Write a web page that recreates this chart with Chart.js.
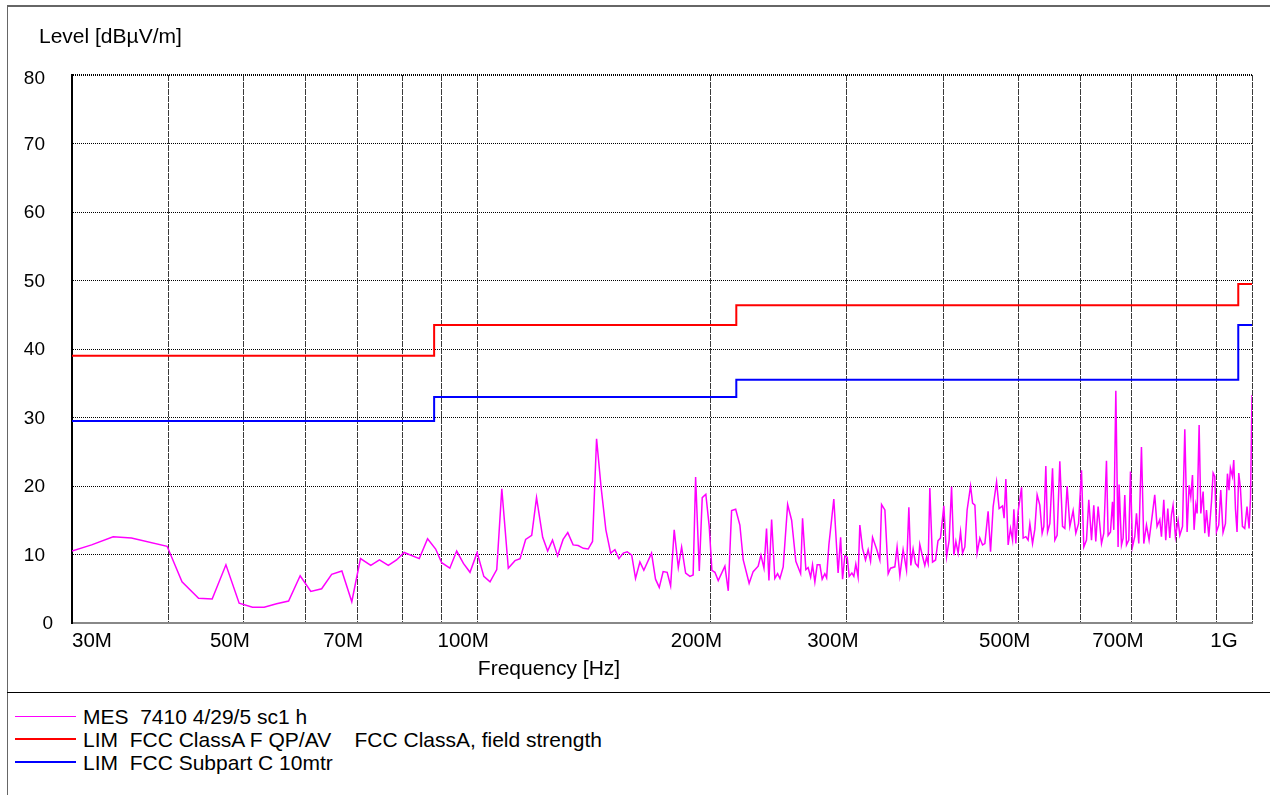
<!DOCTYPE html>
<html>
<head>
<meta charset="utf-8">
<title>Radiated emission scan</title>
<script src="https://cdn.jsdelivr.net/npm/chart.js@4/dist/chart.umd.min.js"></script>
<style>
    html, body { margin: 0; padding: 0; background: #fff; }
    body { width: 1270px; height: 795px; position: relative; overflow: hidden; font-family: "Liberation Sans", Arial, sans-serif; }
    #frame { position: absolute; left: 7px; top: 5px; width: 1300px; height: 820px; border-left: 1px solid #666; border-top: 2px solid #666; }
    #sep { position: absolute; left: 7px; top: 692px; width: 1270px; border-top: 1px solid #000; }
    #chart { position: absolute; left: 0; top: 0; }
    .row { position: absolute; left: 0; width: 1000px; height: 23px; line-height: 23px; font-size: 21px; color: #000; }
    .swatch { position: absolute; left: 15px; width: 61px; height: 0; }
    .txt { position: absolute; left: 83px; top: 0; white-space: pre; }
</style>
</head>
<body>
<div id="frame"></div>
<div id="sep"></div>
<canvas id="chart" width="1270" height="692"></canvas>
<div id="legend"></div>

<script>
// frequency grid (MHz) and labelled ticks
const gridFreqs = [30, 40, 50, 60, 70, 80, 90, 100, 200, 300, 400, 500, 600, 700, 800, 900, 1000];
const xLabelFreqs = [30, 50, 70, 100, 200, 300, 500, 700, 1000];
const xLabels = ['30M', '50M', '70M', '100M', '200M', '300M', '500M', '700M', '1G'];
const yTicks = [0, 10, 20, 30, 40, 50, 60, 70, 80];

// measured trace, MHz / dBµV/m
const measFreq = [
    30, 31.8, 33.9, 35.8, 39.8, 41.6, 43.7, 45.5, 47.4, 49.3, 51.3, 53.1, 55.1, 57.1, 59.1, 61.0, 63.0, 64.9, 66.9, 68.9,
    70.7, 72.9, 74.8, 76.8, 78.7, 80.5, 84.2, 86.3, 88.4, 90.0, 92.2, 94.1, 96.0, 97.9, 100, 102, 103.9, 106, 107.6, 109.7,
    111.9, 113.6, 115.5, 117.6, 119.3, 121.5, 123.3, 125.1, 127.0, 129.1, 130.9, 133.0, 135.0, 137.1, 139.1, 140.9, 142.6, 144.5, 146.6, 148.7,
    150.6, 152.4, 154.4, 156.2, 158.3, 160.1, 162.2, 164.1, 167.9, 169.9, 171.8, 173.8, 175.9, 177.7, 179.6, 181.8, 183.6, 185.8, 188.2, 190.0,
    191.4, 193.5, 195.2, 197.3, 199.3, 200.9, 202.7, 204.7, 208.8, 210.9, 213.0, 215.6, 218.3, 220.5, 224.4, 227.1, 230.5, 232.4, 234.5, 236.3,
    238.0, 239.9, 242.2, 244.2, 245.9, 248.3, 251.6, 254.6, 257.8, 261.5, 263.0, 265.6, 267.4, 269.4, 270.9, 272.8, 274.7, 276.9, 278.8, 281.0,
    282.5, 284.4, 288.6, 292.3, 294.5, 296.2, 298.2, 300.3, 302.1, 304.5, 306.3, 308.1, 310.2, 311.8, 314.3, 317.1, 319.6, 321.9, 323.8, 327.7,
    330.9, 332.6, 335.9, 339.2, 341.6, 346.0, 348.3, 351.2, 354.6, 358.2, 360.7, 362.8, 365.3, 367.9, 370.8, 372.6, 375.7, 378.2, 380.2, 382.0,
    383.9, 387.0, 390.5, 393.3, 396.2, 400.2, 403.5, 406.6, 409.5, 412.3, 414.8, 417.6, 420.6, 423.1, 426.0, 428.9, 433.3, 435.9, 438.9, 441.8,
    445.4, 449.0, 452.1, 456.5, 459.8, 463.4, 468.1, 471.7, 476.5, 478.7, 481.2, 484.5, 487.9, 490.9, 492.8, 495.7, 499.1, 504.2, 506.6, 510.7,
    514.1, 516.8, 520.9, 524.5, 528.1, 532.3, 536.0, 538.7, 541.9, 544.7, 548.4, 552.8, 556.6, 560.4, 564.9, 569.5, 573.4, 577.3, 582.0, 587.7,
    592.4, 597.2, 602.5, 606.6, 611.5, 615.7, 620.7, 624.9, 628.6, 633.0, 639.4, 643.8, 648.9, 652.1, 656.7, 660.6, 663.2, 667.2, 671.7, 673.7,
    678.5, 681.8, 685.2, 688.7, 693.4, 696.9, 701.0, 705.8, 709.4, 714.3, 720.0, 725.0, 730.8, 736.5, 744.0, 749.0, 754.2, 760.3, 764.1, 769.4,
    773.9, 778.6, 783.2, 787.2, 790.9, 796.5, 802.9, 806.9, 813.4, 819.0, 824.6, 829.5, 833.7, 837.9, 841.9, 846.2, 849.5, 854.6, 858.9, 864.8,
    869.1, 873.5, 879.5, 886.6, 890.9, 895.3, 899.7, 905.9, 911.3, 917.5, 924.1, 929.6, 934.0, 937.9, 943.5, 947.2, 952.0, 956.5, 961.4, 966.2,
    972.0, 978.6, 985.3, 991.4, 995.6, 1000
];
const measLevel = [
    10.5, 11.4, 12.6, 12.4, 11.2, 6.0, 3.6, 3.5, 8.5, 2.9, 2.3, 2.3, 2.8, 3.2, 6.9, 4.6, 5.0, 7.1, 7.6, 3.1,
    9.4, 8.4, 9.2, 8.4, 9.2, 10.3, 9.4, 12.3, 10.8, 8.8, 8.0, 10.5, 8.7, 7.4, 10.3, 6.8, 6.0, 7.8, 19.6, 8.0,
    9.1, 9.4, 12.2, 12.8, 18.3, 12.5, 10.5, 12.1, 9.8, 12.2, 13.2, 11.4, 11.3, 10.9, 10.8, 11.9, 26.9, 19.9, 13.6, 10.2,
    10.7, 9.4, 10.2, 10.4, 9.9, 6.5, 8.9, 7.7, 10.2, 6.4, 5.2, 7.5, 7.4, 5.4, 13.6, 8.1, 11.1, 7.3, 6.8, 7.0,
    21.3, 7.6, 18.3, 18.8, 14.1, 7.7, 7.4, 6.2, 8.3, 4.7, 16.4, 16.6, 14.3, 9.2, 5.8, 7.5, 8.3, 9.9, 8.0, 13.8,
    6.2, 15.1, 6.5, 7.2, 6.5, 8.2, 17.3, 15.0, 9.0, 7.2, 15.3, 7.8, 8.1, 6.7, 8.5, 6.0, 8.5, 8.5, 6.4, 7.2,
    6.6, 11.4, 18.1, 7.3, 12.5, 6.4, 9.8, 9.6, 6.8, 7.3, 6.8, 8.6, 6.7, 14.3, 10.9, 9.2, 10.7, 9.0, 12.5, 10.8,
    9.2, 17.3, 16.5, 7.2, 8.0, 8.2, 11.1, 6.9, 10.7, 7.7, 16.9, 8.4, 10.8, 8.7, 8.2, 11.5, 9.7, 8.4, 9.6, 8.7,
    19.7, 8.9, 9.2, 12.0, 12.4, 17.1, 9.7, 12.1, 19.9, 9.9, 11.9, 10.2, 13.3, 10.2, 11.1, 16.5, 20.0, 17.5, 17.2, 10.2,
    12.4, 11.4, 11.6, 16.3, 10.4, 17.0, 20.6, 16.7, 17.1, 15.3, 21.0, 11.4, 13.8, 12.1, 16.6, 11.6, 16.3, 19.8, 12.4, 12.6,
    12.1, 14.5, 11.6, 13.7, 18.7, 17.2, 13.1, 14.1, 22.9, 13.3, 14.5, 22.6, 12.1, 12.8, 23.6, 14.1, 13.8, 20.0, 14.1, 16.4,
    13.1, 14.5, 22.3, 11.1, 12.1, 18.0, 12.1, 17.2, 11.9, 17.0, 11.6, 13.1, 23.7, 12.8, 13.3, 17.7, 13.6, 33.9, 11.1, 20.2,
    11.4, 12.4, 18.7, 11.4, 12.1, 22.1, 11.1, 12.6, 16.0, 11.6, 25.7, 11.6, 14.3, 12.1, 16.0, 18.7, 14.1, 15.1, 12.6, 18.0,
    12.1, 16.7, 12.4, 15.8, 17.2, 12.6, 15.0, 12.8, 14.1, 28.3, 13.3, 20.1, 18.4, 21.6, 13.6, 17.2, 16.0, 28.9, 16.0, 19.2,
    13.1, 16.5, 12.6, 17.7, 21.9, 21.4, 13.3, 14.3, 19.4, 13.2, 14.5, 21.8, 19.4, 22.6, 21.4, 23.8, 16.7, 13.3, 21.9, 19.7,
    14.1, 13.8, 17.0, 13.8, 18.2, 33.3
];

// limit lines
const limitAFreq = [30, 88, 88, 216, 216, 960, 960, 1000];
const limitALevel = [39, 39, 43.5, 43.5, 46.4, 46.4, 49.5, 49.5];
const limitCFreq = [30, 88, 88, 216, 216, 960, 960, 1000];
const limitCLevel = [29.5, 29.5, 33, 33, 35.5, 35.5, 43.5, 43.5];

const seriesNames = ['MES  7410 4/29/5 sc1 h', 'LIM  FCC ClassA F QP/AV    FCC ClassA, field strength', 'LIM  FCC Subpart C 10mtr'];
const seriesColors = ['#ff00ff', '#ff0000', '#0000ff'];
const legendRowY = [716, 739, 762];

const toPoints = (xs, ys) => xs.map((x, i) => ({x: x, y: ys[i]}));

const FONT = '"Liberation Sans", Arial, sans-serif';

const axisText = {
    id: 'axisText',
    afterDraw(chart) {
        const {ctx, scales: {x, y}} = chart;
        ctx.save();
        ctx.fillStyle = '#000';

        // x tick labels
        ctx.font = '20.5px ' + FONT;
        ctx.textBaseline = 'alphabetic';
        xLabelFreqs.forEach((f, i) => {
            const px = x.getPixelForValue(f);
            if (i === 0) {
                ctx.textAlign = 'left';
                ctx.fillText(xLabels[i], px, 647);
            } else if (i === xLabelFreqs.length - 1) {
                ctx.textAlign = 'center';
                ctx.fillText(xLabels[i], px - 28, 647);
            } else {
                ctx.textAlign = 'center';
                ctx.fillText(xLabels[i], px - 14, 647);
            }
        });

        // y tick labels
        ctx.font = '19px ' + FONT;
        ctx.textBaseline = 'middle';
        ctx.textAlign = 'right';
        yTicks.forEach(v => {
            const py = Math.max(y.getPixelForValue(v), 78);
            ctx.fillText(String(v), v === 0 ? 53 : 45, py + 1);
        });

        // axis titles
        ctx.font = '21px ' + FONT;
        ctx.textBaseline = 'alphabetic';
        ctx.textAlign = 'left';
        ctx.fillText('Level [dBµV/m]', 39, 43);
        ctx.textAlign = 'center';
        ctx.fillText('Frequency [Hz]', 549, 675);
        ctx.restore();
    }
};

const chart = new Chart(document.getElementById('chart').getContext('2d'), {
    type: 'line',
    data: {
        datasets: [
            {
                label: seriesNames[0],
                data: toPoints(measFreq, measLevel),
                borderColor: seriesColors[0],
                borderWidth: 1.5,
                pointRadius: 0,
                tension: 0
            },
            {
                label: seriesNames[1],
                data: toPoints(limitAFreq, limitALevel),
                borderColor: seriesColors[1],
                borderWidth: 2,
                pointRadius: 0,
                tension: 0
            },
            {
                label: seriesNames[2],
                data: toPoints(limitCFreq, limitCLevel),
                borderColor: seriesColors[2],
                borderWidth: 2,
                pointRadius: 0,
                tension: 0
            }
        ]
    },
    options: {
        responsive: false,
        animation: false,
        layout: {padding: {top: 75, right: 18, left: 0, bottom: 0}},
        plugins: {
            legend: {display: false},
            tooltip: {enabled: false}
        },
        scales: {
            x: {
                type: 'logarithmic',
                min: 30,
                max: 1000,
                afterBuildTicks: scale => { scale.ticks = gridFreqs.map(v => ({value: v})); },
                afterFit: scale => { scale.height = 69; },
                ticks: {display: false},
                grid: {color: '#3a3a3a', lineWidth: 1, drawTicks: false},
                border: {display: true, color: '#888', width: 2, dash: [6, 1]}
            },
            y: {
                min: 0,
                max: 80,
                afterBuildTicks: scale => { scale.ticks = yTicks.map(v => ({value: v})); },
                afterFit: scale => { scale.width = 72; },
                ticks: {display: false},
                grid: {
                    color: '#000',
                    lineWidth: c => (c.tick && c.tick.value === 80 ? 2 : 1),
                    drawTicks: false
                },
                border: {display: true, color: '#000', width: 2, dash: [1, 1]}
            }
        }
    },
    plugins: [axisText]
});

// legend under the plot
document.getElementById('legend').innerHTML = chart.data.datasets.map((ds, i) => {
    const w = ds.borderWidth >= 2 ? 2 : 1;
    return `<div class="row" style="top:${legendRowY[i] - 11}px">` +
        `<span class="swatch" style="top:${11 - Math.floor(w / 2)}px;border-top:${w}px solid ${ds.borderColor}"></span>` +
        `<span class="txt">${ds.label}</span></div>`;
}).join('');
</script>
</body>
</html>
